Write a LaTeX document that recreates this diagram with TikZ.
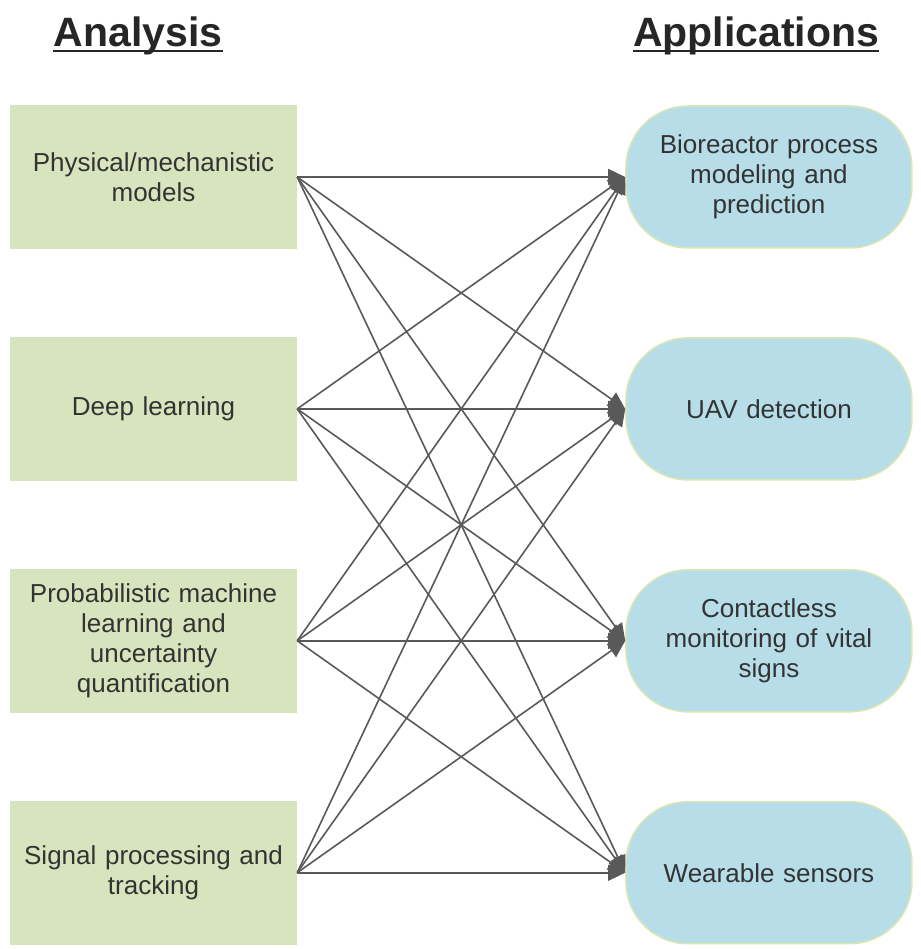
\documentclass[tikz,border=0pt]{standalone}
\usepackage{fontspec}
\setmainfont{Liberation Sans}
\usepackage{xcolor}
\usepackage{tikz}
\usetikzlibrary{positioning,arrows.meta}

\definecolor{anafill}{HTML}{D7E4BD}
\definecolor{appfill}{HTML}{B7DDE8}
\definecolor{appedge}{HTML}{DCE6B4}
\definecolor{linkgray}{HTML}{595959}
\definecolor{txtgray}{HTML}{333333}

\begin{document}
\begin{tikzpicture}[x=1pt,y=-1pt,
		anabox/.style={rectangle, fill=anafill, minimum width=287pt, minimum height=144pt, inner sep=0pt, text width=275pt, align=center, text=txtgray, font=\fontsize{26}{30}\selectfont},
		appbox/.style={rectangle, rounded corners=62pt, draw=appedge, line width=1.5pt, fill=appfill, minimum width=286pt, minimum height=142pt, inner sep=0pt, text width=260pt, align=center, text=txtgray, font=\fontsize{26}{30}\selectfont},
		title/.style={anchor=base, inner sep=0pt, text=black!85, font=\fontsize{41}{49}\bfseries\selectfont},
		uline/.style={draw=black!85, line width=2pt},
		link/.style={draw=linkgray, line width=1.6pt, -{Triangle[length=17pt,width=16pt]}}]
			\useasboundingbox (0,0) rectangle (920,949);
			\node[title] (ana) at (138,47) {Analysis};
			\node[title] (app) at (756,47) {Applications};
			\draw[uline] ([yshift=-4pt]ana.base west) -- ([yshift=-4pt]ana.base east);
			\draw[uline] ([yshift=-4pt]app.base west) -- ([yshift=-4pt]app.base east);
			
			\node[anabox] (phys) at (153.5,177) {Physical/mechanistic\\models};
			\node[anabox, below=87.5pt of phys] (deep) {Deep learning};
			\node[anabox, below=87.5pt of deep] (prob) {Probabilistic machine\\learning and\\uncertainty\\quantification};
			\node[anabox, below=87.5pt of prob] (sig) {Signal processing and\\tracking};
			
			\node[appbox, right=328pt of phys] (bio) {Bioreactor process\\modeling and\\prediction};
			\node[appbox, right=328pt of deep] (uav) {UAV detection};
			\node[appbox, right=328pt of prob] (vital) {Contactless\\monitoring of vital\\signs};
			\node[appbox, right=328pt of sig] (wear) {Wearable sensors};
			
			\foreach \a in {phys,deep,prob,sig}
				\foreach \b in {bio,uav,vital,wear}
					\draw[link] (\a.east) -- (\b.west);
		\end{tikzpicture}
\end{document}
